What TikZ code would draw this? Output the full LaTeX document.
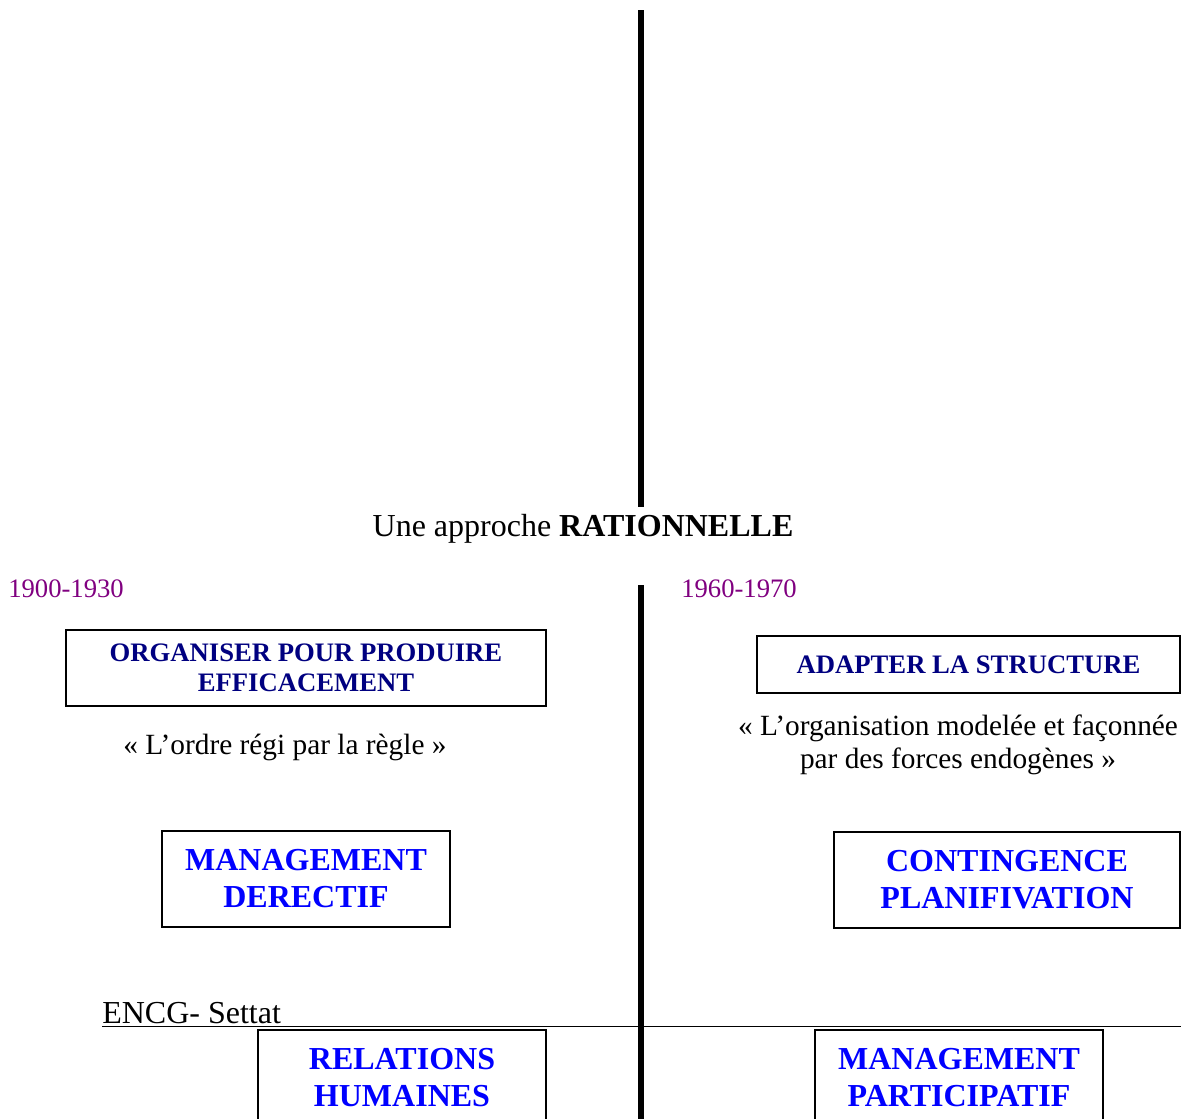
\documentclass[tikz,border=0pt]{standalone}
\usepackage{fontspec}
\setmainfont{Liberation Serif}
\definecolor{datecol}{HTML}{800080}
\definecolor{navycol}{HTML}{000080}
\definecolor{bluecol}{HTML}{0000FF}
\tikzset{
  datetext/.style={anchor=base west, inner sep=0pt, text=datecol, font=\fontsize{20}{24}\selectfont},
  smallbox/.style={draw, line width=1.5pt, inner sep=0pt, align=center, text=navycol, font=\fontsize{20}{22.5}\selectfont\bfseries},
  bigbox/.style={draw, line width=1.5pt, inner sep=0pt, align=center, text=bluecol, font=\fontsize{24}{27.75}\selectfont\bfseries},
  quotetext/.style={inner sep=0pt, align=center, font=\fontsize{22}{24.75}\selectfont},
  axis/.style={line width=4.5pt},
  boxsize/.style n args={2}{minimum width=0.75*#1 pt, minimum height=0.75*#2 pt},
}
\begin{document}
\begin{tikzpicture}[x=0.75pt,y=-0.75pt]
\useasboundingbox (0,0) rectangle (1181,1118);
\clip (0,0) rectangle (1181,1118);
% vertical axis
\coordinate (t1) at (641,10);
\coordinate (t2) at (641,507);
\coordinate (b1) at (641,585);
\coordinate (b2) at (641,1130);
\draw[axis] (t1) -- (t2);
\draw[axis] (b1) -- (b2);
% title
\node[inner sep=0pt, font=\fontsize{24}{28}\selectfont] (title) at (583,529) {Une approche \textbf{RATIONNELLE}};
% dates
\node[datetext] (d1) at (8,597) {1900-1930};
\node[datetext] (d2) at (681,597) {1960-1970};
% upper boxes
\node[smallbox, boxsize={480}{76}] (o1) at (306,668) {ORGANISER POUR PRODUIRE\\EFFICACEMENT};
\node[smallbox, boxsize={423}{57}] (o2) at (968.5,664.5) {ADAPTER LA STRUCTURE};
% quotes
\node[quotetext] (q1) at (285,747) {« L’ordre régi par la règle »};
\node[quotetext] (q2) at (958,745) {« L’organisation modelée et façonnée\\par des forces endogènes »};
% middle boxes
\node[bigbox, boxsize={288}{96}] (m1) at (306,879) {MANAGEMENT\\DERECTIF};
\node[bigbox, boxsize={346}{96}] (m2) at (1007,880) {CONTINGENCE\\PLANIFIVATION};
% footer
\node[anchor=base west, inner sep=0pt, font=\fontsize{24}{28}\selectfont] (encg) at (102,1023) {ENCG- Settat};
\coordinate (hl) at (102,1026.5);
\coordinate (hr) at (1181,1026.5);
\draw[line width=1.2pt] (hl) -- (hr);
% bottom boxes (cut by the page edge)
\node[bigbox, boxsize={288}{96}] (r1) at (402,1078) {RELATIONS\\HUMAINES};
\node[bigbox, boxsize={288}{96}] (r2) at (959,1078) {MANAGEMENT\\PARTICIPATIF};
\end{tikzpicture}
\end{document}
